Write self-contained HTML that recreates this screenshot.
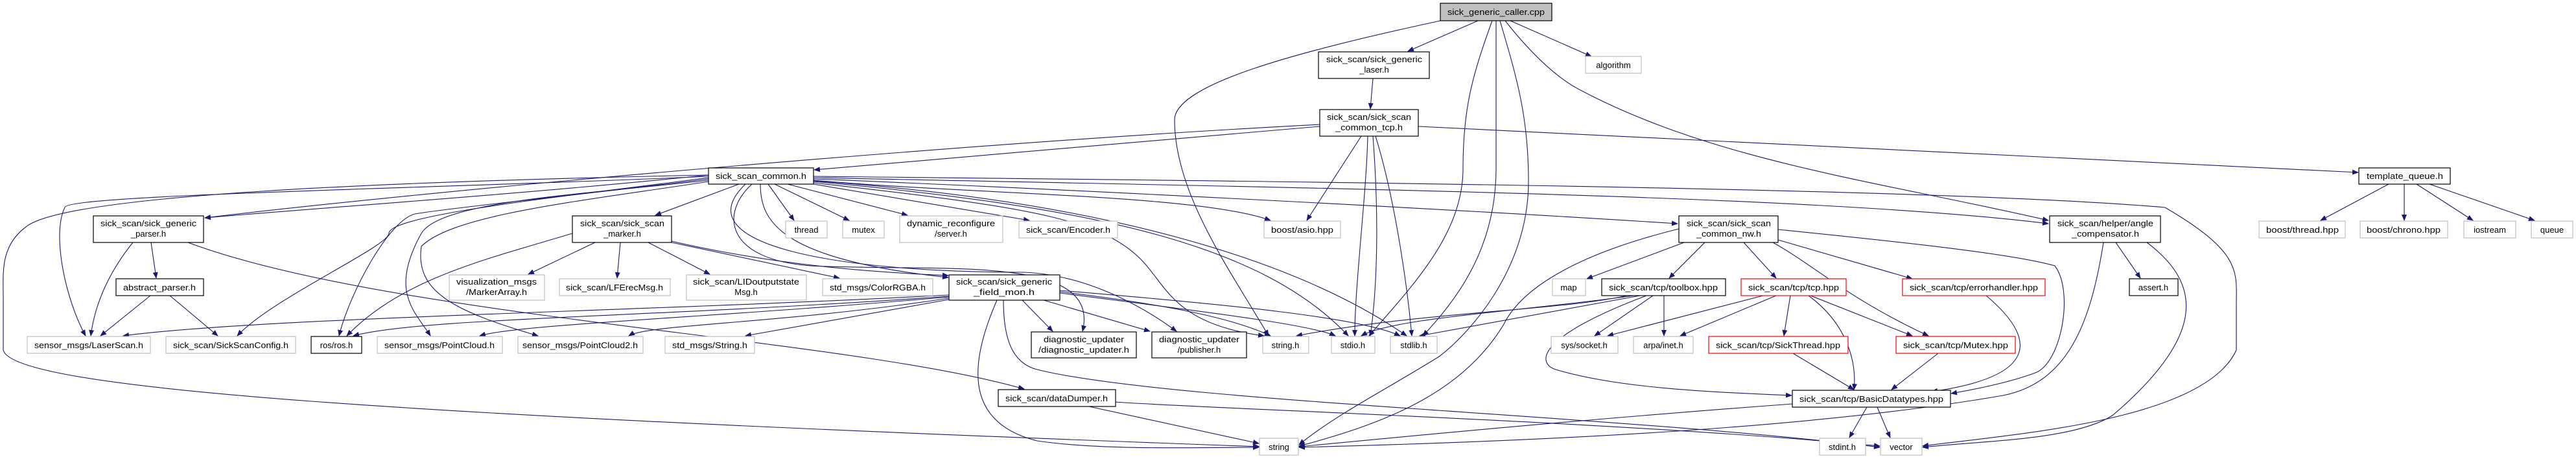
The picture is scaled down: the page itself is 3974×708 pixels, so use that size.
<!DOCTYPE html>
<html><head><meta charset="utf-8"><style>
html,body{margin:0;padding:0;background:#fff;}
svg{display:block;}
text{font-family:"Liberation Sans",sans-serif;font-size:13px;fill:#000;}
.e{fill:none;stroke:#191970;stroke-width:1.1;}
.b{fill:#fff;stroke:#000;stroke-width:1.2;}
.g{fill:#fff;stroke:#bfbfbf;stroke-width:1.2;}
.r{fill:#fff;stroke:#ff0000;stroke-width:1.2;}
</style></head><body>
<svg width="3974" height="708" viewBox="0 0 3974 708" xmlns="http://www.w3.org/2000/svg">
<defs><marker id="a" markerWidth="10" markerHeight="8" refX="9" refY="4" orient="auto" markerUnits="userSpaceOnUse"><path d="M0,0 L10,4 L0,8 z" fill="#191970"/></marker></defs>
<g class="e" marker-end="url(#a)">
<!-- caller -->
<path d="M2280,32 L2172,79"/>
<path d="M2302,32 C2270,120 2257,170 2257,260 C2257,360 2180,440 2112,518"/>
<path d="M2308,32 L2308,260 C2308,380 2250,460 2195,518"/>
<path d="M2314,32 C2340,120 2358,180 2358,280 C2358,420 2260,520 2220,550 C2140,600 2060,640 2004,686"/>
<path d="M2330,32 L2455,87"/>
<path d="M2322,32 C2360,80 2400,120 2440,140 C2650,250 2900,280 3160,340"/>
<path d="M2222,32 C2000,80 1812,130 1812,185 C1812,300 1900,420 1957,518"/>
<!-- laser -->
<path d="M2118,121 L2114,168"/>
<!-- tcp -->
<path d="M2100,210 L2016,340"/>
<path d="M2110,210 C2108,300 2090,440 2090,518"/>
<path d="M2118,210 C2125,300 2128,420 2114,518"/>
<path d="M2122,210 C2150,300 2170,430 2178,518"/>
<path d="M2036,195 L1256,262"/>
<path d="M2036,192 C1500,220 700,290 316,336"/>
<path d="M2188,195 L3638,266"/>
<!-- common -->
<path d="M1140,284 L1011,332"/>
<path d="M1185,284 L1225,340"/>
<path d="M1195,284 L1310,340"/>
<path d="M1215,284 L1400,332"/>
<path d="M1255,284 L1588,340"/>
<path d="M1255,278 C1500,300 1850,300 1960,340"/>
<path d="M1255,276 C1600,290 2200,320 2588,345"/>
<path d="M1255,274 C2000,290 2800,300 3160,345"/>
<path d="M1255,272 C2000,280 3000,290 3340,320 C3460,390 3450,420 3450,470 L3450,540 C3400,650 3100,670 2966,688"/>
<path d="M1255,282 C1600,320 1700,340 1760,400 C1800,440 1810,500 1950,518"/>
<path d="M1255,280 C1700,320 1950,380 2080,518"/>
<path d="M1255,279 C1700,310 2000,400 2170,518"/>
<path d="M1173,284 C1173,340 1200,400 1463,428"/>
<path d="M1160,284 C1110,330 1120,400 1250,410 C1450,420 1700,390 1670,511"/>
<path d="M1150,284 C1050,380 1300,420 1580,420 C1700,425 1800,500 1815,511"/>
<path d="M1093,270 C800,300 500,320 316,336"/>
<path d="M1093,272 C700,290 100,300 100,320 C80,360 100,460 132,518"/>
<path d="M1093,274 C900,300 600,330 600,360 C600,380 420,460 366,518"/>
<path d="M1093,276 C900,300 700,320 640,330 C600,340 540,450 523,518"/>
<path d="M1093,278 C900,300 680,310 650,360 C600,450 640,480 664,518"/>
<path d="M1093,280 C900,310 700,330 650,380 C640,450 700,480 830,518"/>
<path d="M1093,270 C600,280 100,300 40,350 C0,380 5,420 5,460 L5,540 C20,600 600,640 1943,689"/>
<!-- parser -->
<path d="M233,374 L241,429"/>
<path d="M205,374 C160,430 145,480 140,518"/>
<path d="M290,374 C600,490 1300,520 1580,600"/>
<!-- abstract -->
<path d="M232,456 L155,518"/>
<path d="M262,456 L336,518"/>
<!-- marker -->
<path d="M883,360 C750,400 620,430 535,518"/>
<path d="M918,374 L815,423"/>
<path d="M957,374 L952,429"/>
<path d="M1000,374 L1095,423"/>
<path d="M1036,374 L1295,429"/>
<path d="M1036,372 C1200,410 1350,420 1463,425"/>
<!-- field mon -->
<path d="M1464,455 C1000,480 400,490 190,518"/>
<path d="M1464,457 C1000,490 650,490 545,518"/>
<path d="M1464,458 C1100,490 800,500 740,518"/>
<path d="M1464,460 C1200,500 1000,500 970,518"/>
<path d="M1464,462 L1150,518"/>
<path d="M1577,463 L1624,511"/>
<path d="M1610,463 L1774,511"/>
<path d="M1635,450 C1800,470 1900,490 1960,518"/>
<path d="M1635,452 C1850,480 2020,500 2060,518"/>
<path d="M1635,448 C1900,470 2100,490 2160,518"/>
<path d="M1538,463 C1500,550 1480,650 1600,680 C1700,695 1850,690 1942,690"/>
<path d="M1548,463 C1548,520 1560,560 1600,570 C1800,620 2500,640 2900,690"/>
<!-- dataDumper -->
<path d="M1720,620 C1850,630 2500,650 2900,688"/>
<path d="M1680,627 L1942,684"/>
<!-- nw -->
<path d="M2598,374 L2448,430"/>
<path d="M2630,374 L2575,429"/>
<path d="M2690,374 L2740,429"/>
<path d="M2743,370 L2950,430"/>
<path d="M2735,374 C2800,410 2850,460 2975,518"/>
<path d="M2743,354 C2900,370 3100,390 3170,410 C3200,450 3180,560 3140,575 C3100,590 3050,600 3010,607"/>
<path d="M2590,353 C2400,400 2340,460 2320,500 C2260,600 2150,650 2004,688"/>
<!-- toolbox -->
<path d="M2510,456 C2400,480 2200,480 2000,518"/>
<path d="M2520,456 C2350,480 2150,490 2100,518"/>
<path d="M2530,456 L2190,518"/>
<path d="M2550,456 L2460,518"/>
<path d="M2567,456 L2567,518"/>
<path d="M2540,456 C2370,520 2370,560 2400,570 C2500,600 2650,605 2764,610"/>
<!-- tcp.hpp -->
<path d="M2720,456 L2480,518"/>
<path d="M2740,456 L2592,518"/>
<path d="M2762,456 L2752,518"/>
<path d="M2793,456 L2950,518"/>
<path d="M2790,456 C2850,500 2865,560 2860,601"/>
<!-- errorhandler -->
<path d="M3064,456 C3140,520 3150,580 2980,604"/>
<!-- SickThread / Mutex -->
<path d="M2766,545 L2860,601"/>
<path d="M2990,545 L2918,601"/>
<!-- basic -->
<path d="M2765,623 C2400,650 2100,680 2004,689"/>
<path d="M2880,628 L2853,675"/>
<path d="M2896,628 L2916,675"/>
<!-- angle -->
<path d="M3245,374 C3225,500 3190,590 3090,610 C2800,660 2400,680 2004,690"/>
<path d="M3264,374 L3302,429"/>
<path d="M3312,374 C3400,440 3400,520 3260,640 C3200,680 3050,680 2966,690"/>
<!-- template queue -->
<path d="M3685,284 L3580,340"/>
<path d="M3709,284 L3709,340"/>
<path d="M3728,284 L3815,340"/>
<path d="M3748,284 L3910,340"/>
</g>
<!-- nodes -->
<rect x="2222" y="5" width="172" height="27" fill="#bfbfbf" stroke="#000" stroke-width="1.2"/>
<text x="2308" y="23" text-anchor="middle" textLength="150" lengthAdjust="spacingAndGlyphs">sick_generic_caller.cpp</text>
<g>
<rect class="b" x="2034" y="80" width="171" height="41"/>
<text x="2120" y="96" text-anchor="middle" textLength="148" lengthAdjust="spacingAndGlyphs">sick_scan/sick_generic</text>
<text x="2120" y="112" text-anchor="middle">_laser.h</text>
<rect class="b" x="2036" y="169" width="152" height="41"/>
<text x="2112" y="185" text-anchor="middle" textLength="130" lengthAdjust="spacingAndGlyphs">sick_scan/sick_scan</text>
<text x="2112" y="201" text-anchor="middle" textLength="104" lengthAdjust="spacingAndGlyphs">_common_tcp.h</text>
<rect class="g" x="2446" y="87" width="86" height="26"/><text x="2489" y="105" text-anchor="middle">algorithm</text>
<rect class="b" x="1093" y="259" width="162" height="25"/><text x="1174" y="276" text-anchor="middle" textLength="140" lengthAdjust="spacingAndGlyphs">sick_scan_common.h</text>
<rect class="b" x="3639" y="259" width="141" height="25"/><text x="3710" y="276" text-anchor="middle" textLength="118" lengthAdjust="spacingAndGlyphs">template_queue.h</text>

<rect class="b" x="144" y="333" width="170" height="41"/>
<text x="229" y="349" text-anchor="middle" textLength="148" lengthAdjust="spacingAndGlyphs">sick_scan/sick_generic</text>
<text x="229" y="365" text-anchor="middle">_parser.h</text>
<rect class="b" x="883" y="333" width="153" height="41"/>
<text x="960" y="349" text-anchor="middle" textLength="130" lengthAdjust="spacingAndGlyphs">sick_scan/sick_scan</text>
<text x="960" y="365" text-anchor="middle">_marker.h</text>
<rect class="g" x="1212" y="341" width="64" height="26"/><text x="1244" y="359" text-anchor="middle">thread</text>
<rect class="g" x="1300" y="341" width="64" height="26"/><text x="1332" y="359" text-anchor="middle">mutex</text>
<rect class="g" x="1388" y="333" width="159" height="41"/>
<text x="1467" y="349" text-anchor="middle" textLength="136" lengthAdjust="spacingAndGlyphs">dynamic_reconfigure</text>
<text x="1467" y="365" text-anchor="middle">/server.h</text>
<rect class="g" x="1572" y="341" width="152" height="26"/><text x="1648" y="359" text-anchor="middle" textLength="130" lengthAdjust="spacingAndGlyphs">sick_scan/Encoder.h</text>
<rect class="g" x="1950" y="341" width="118" height="26"/><text x="2009" y="359" text-anchor="middle" textLength="96" lengthAdjust="spacingAndGlyphs">boost/asio.hpp</text>
<rect class="b" x="2590" y="333" width="153" height="41"/>
<text x="2667" y="349" text-anchor="middle" textLength="130" lengthAdjust="spacingAndGlyphs">sick_scan/sick_scan</text>
<text x="2667" y="365" text-anchor="middle" textLength="100" lengthAdjust="spacingAndGlyphs">_common_nw.h</text>
<rect class="b" x="3162" y="333" width="171" height="41"/>
<text x="3248" y="349" text-anchor="middle" textLength="148" lengthAdjust="spacingAndGlyphs">sick_scan/helper/angle</text>
<text x="3248" y="365" text-anchor="middle" textLength="104" lengthAdjust="spacingAndGlyphs">_compensator.h</text>
<rect class="g" x="3485" y="341" width="133" height="26"/><text x="3552" y="359" text-anchor="middle" textLength="112" lengthAdjust="spacingAndGlyphs">boost/thread.hpp</text>
<rect class="g" x="3641" y="341" width="135" height="26"/><text x="3708" y="359" text-anchor="middle" textLength="114" lengthAdjust="spacingAndGlyphs">boost/chrono.hpp</text>
<rect class="g" x="3801" y="341" width="80" height="26"/><text x="3841" y="359" text-anchor="middle">iostream</text>
<rect class="g" x="3905" y="341" width="64" height="26"/><text x="3937" y="359" text-anchor="middle">queue</text>

<rect class="b" x="179" y="430" width="135" height="26"/><text x="246" y="448" text-anchor="middle" textLength="112" lengthAdjust="spacingAndGlyphs">abstract_parser.h</text>
<rect class="g" x="693" y="424" width="147" height="39"/>
<text x="766" y="439" text-anchor="middle" textLength="124" lengthAdjust="spacingAndGlyphs">visualization_msgs</text>
<text x="766" y="455" text-anchor="middle" textLength="94" lengthAdjust="spacingAndGlyphs">/MarkerArray.h</text>
<rect class="g" x="863" y="430" width="171" height="26"/><text x="948" y="448" text-anchor="middle" textLength="150" lengthAdjust="spacingAndGlyphs">sick_scan/LFErecMsg.h</text>
<rect class="g" x="1059" y="424" width="185" height="39"/>
<text x="1151" y="439" text-anchor="middle" textLength="164" lengthAdjust="spacingAndGlyphs">sick_scan/LIDoutputstate</text>
<text x="1151" y="455" text-anchor="middle">Msg.h</text>
<rect class="g" x="1269" y="430" width="170" height="26"/><text x="1354" y="448" text-anchor="middle" textLength="148" lengthAdjust="spacingAndGlyphs">std_msgs/ColorRGBA.h</text>
<rect class="b" x="1464" y="424" width="171" height="39"/>
<text x="1549" y="439" text-anchor="middle" textLength="148" lengthAdjust="spacingAndGlyphs">sick_scan/sick_generic</text>
<text x="1549" y="455" text-anchor="middle" textLength="94" lengthAdjust="spacingAndGlyphs">_field_mon.h</text>
<rect class="g" x="2395" y="430" width="51" height="26"/><text x="2420" y="448" text-anchor="middle">map</text>
<rect class="b" x="2471" y="430" width="191" height="26"/><text x="2566" y="448" text-anchor="middle" textLength="168" lengthAdjust="spacingAndGlyphs">sick_scan/tcp/toolbox.hpp</text>
<rect class="r" x="2686" y="430" width="162" height="26"/><text x="2767" y="448" text-anchor="middle" textLength="140" lengthAdjust="spacingAndGlyphs">sick_scan/tcp/tcp.hpp</text>
<rect class="r" x="2935" y="430" width="220" height="26"/><text x="3045" y="448" text-anchor="middle" textLength="198" lengthAdjust="spacingAndGlyphs">sick_scan/tcp/errorhandler.hpp</text>
<rect class="b" x="3285" y="430" width="75" height="26"/><text x="3322" y="448" text-anchor="middle">assert.h</text>

<rect class="g" x="42" y="519" width="190" height="26"/><text x="137" y="537" text-anchor="middle" textLength="168" lengthAdjust="spacingAndGlyphs">sensor_msgs/LaserScan.h</text>
<rect class="g" x="256" y="519" width="200" height="26"/><text x="356" y="537" text-anchor="middle" textLength="178" lengthAdjust="spacingAndGlyphs">sick_scan/SickScanConfig.h</text>
<rect class="b" x="480" y="519" width="78" height="26"/><text x="519" y="537" text-anchor="middle">ros/ros.h</text>
<rect class="g" x="582" y="519" width="193" height="26"/><text x="678" y="537" text-anchor="middle" textLength="170" lengthAdjust="spacingAndGlyphs">sensor_msgs/PointCloud.h</text>
<rect class="g" x="799" y="519" width="193" height="26"/><text x="895" y="537" text-anchor="middle" textLength="178" lengthAdjust="spacingAndGlyphs">sensor_msgs/PointCloud2.h</text>
<rect class="g" x="1026" y="519" width="138" height="26"/><text x="1095" y="537" text-anchor="middle" textLength="116" lengthAdjust="spacingAndGlyphs">std_msgs/String.h</text>
<rect class="b" x="1591" y="512" width="162" height="40"/>
<text x="1672" y="528" text-anchor="middle" textLength="124" lengthAdjust="spacingAndGlyphs">diagnostic_updater</text>
<text x="1672" y="544" text-anchor="middle" textLength="140" lengthAdjust="spacingAndGlyphs">/diagnostic_updater.h</text>
<rect class="b" x="1777" y="512" width="146" height="40"/>
<text x="1850" y="528" text-anchor="middle" textLength="124" lengthAdjust="spacingAndGlyphs">diagnostic_updater</text>
<text x="1850" y="544" text-anchor="middle">/publisher.h</text>
<rect class="g" x="1948" y="519" width="71" height="26"/><text x="1983" y="537" text-anchor="middle">string.h</text>
<rect class="g" x="2054" y="519" width="67" height="26"/><text x="2087" y="537" text-anchor="middle">stdio.h</text>
<rect class="g" x="2145" y="519" width="72" height="26"/><text x="2181" y="537" text-anchor="middle">stdlib.h</text>
<rect class="g" x="2393" y="519" width="103" height="26"/><text x="2444" y="537" text-anchor="middle">sys/socket.h</text>
<rect class="g" x="2520" y="519" width="92" height="26"/><text x="2566" y="537" text-anchor="middle">arpa/inet.h</text>
<rect class="r" x="2636" y="519" width="215" height="26"/><text x="2743" y="537" text-anchor="middle" textLength="192" lengthAdjust="spacingAndGlyphs">sick_scan/tcp/SickThread.hpp</text>
<rect class="r" x="2925" y="519" width="184" height="26"/><text x="3017" y="537" text-anchor="middle" textLength="162" lengthAdjust="spacingAndGlyphs">sick_scan/tcp/Mutex.hpp</text>

<rect class="b" x="1540" y="601" width="181" height="26"/><text x="1630" y="619" text-anchor="middle" textLength="158" lengthAdjust="spacingAndGlyphs">sick_scan/dataDumper.h</text>
<rect class="b" x="2765" y="602" width="244" height="26"/><text x="2887" y="620" text-anchor="middle" textLength="222" lengthAdjust="spacingAndGlyphs">sick_scan/tcp/BasicDatatypes.hpp</text>
<rect class="g" x="1943" y="676" width="60" height="26"/><text x="1973" y="694" text-anchor="middle">string</text>
<rect class="g" x="2807" y="676" width="71" height="26"/><text x="2842" y="694" text-anchor="middle">stdint.h</text>
<rect class="g" x="2901" y="676" width="64" height="26"/><text x="2933" y="694" text-anchor="middle">vector</text>
</g>
</svg>
</body></html>
